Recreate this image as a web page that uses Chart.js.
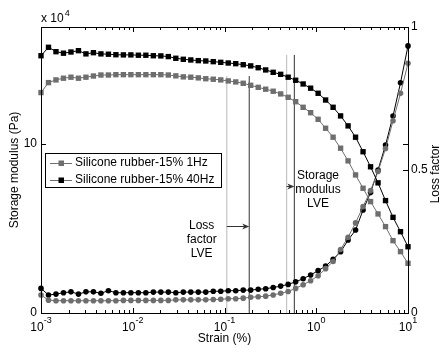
<!DOCTYPE html>
<html>
<head>
<meta charset="utf-8">
<script src="https://cdn.jsdelivr.net/npm/chart.js@4.4.0/dist/chart.umd.min.js"></script>
<style>
  html, body { margin: 0; padding: 0; background: #fff; }
  #wrap { width: 440px; height: 349px; }
</style>
</head>
<body>
<div id="wrap"><canvas id="chart" width="440" height="349"></canvas></div>
<script>
// DATOS (strain en %, modulo en x10^4 Pa)
const strain = [
  0.001, 0.0012068, 0.0014563, 0.0017575, 0.002121, 0.0025595, 0.0030888, 0.0037276, 0.0044984, 0.0054287,
  0.0065513, 0.007906, 0.009541, 0.011514, 0.013895, 0.016768, 0.020236, 0.024421, 0.029471, 0.035565,
  0.042919, 0.051795, 0.062506, 0.075431, 0.09103, 0.10985, 0.13257, 0.15999, 0.19307, 0.233,
  0.28118, 0.33932, 0.40949, 0.49417, 0.59636, 0.71969, 0.86851, 1.0481, 1.2649, 1.5264,
  1.8421, 2.223, 2.6827, 3.2375, 3.9069, 4.7149, 5.6899, 6.8665, 8.2864, 10
];
const modulus1Hz = [
  13.04, 13.63, 13.79, 13.89, 13.95, 13.89, 13.95, 14.02, 14.08, 14.08,
  14.10, 14.10, 14.10, 14.10, 14.10, 14.10, 14.10, 14.08, 14.03, 13.97,
  13.95, 13.91, 13.86, 13.83, 13.79, 13.73, 13.67, 13.59, 13.47, 13.35,
  13.24, 13.12, 12.96, 12.76, 12.50, 12.17, 11.85, 11.46, 10.93, 10.40,
  9.75, 9.00, 8.17, 7.38, 6.59, 5.86, 5.11, 4.28, 3.63, 2.94
];
const modulus40Hz = [
  15.22, 15.72, 15.46, 15.37, 15.44, 15.52, 15.33, 15.40, 15.33, 15.31,
  15.28, 15.27, 15.27, 15.25, 15.25, 15.22, 15.21, 15.17, 15.07, 15.01,
  14.97, 14.93, 14.91, 14.87, 14.83, 14.79, 14.75, 14.69, 14.62, 14.51,
  14.38, 14.24, 14.12, 13.95, 13.77, 13.55, 13.30, 13.00, 12.60, 12.17,
  11.66, 11.07, 10.40, 9.54, 8.65, 7.70, 6.65, 5.66, 4.81, 3.92
];
const loss1Hz = [
  0.063, 0.045, 0.043, 0.043, 0.043, 0.043, 0.043, 0.043, 0.043, 0.043,
  0.043, 0.044, 0.044, 0.044, 0.044, 0.044, 0.044, 0.044, 0.046, 0.046,
  0.046, 0.046, 0.046, 0.047, 0.048, 0.050, 0.050, 0.052, 0.055, 0.057,
  0.059, 0.063, 0.069, 0.075, 0.086, 0.099, 0.113, 0.130, 0.155, 0.180,
  0.222, 0.265, 0.315, 0.372, 0.428, 0.495, 0.575, 0.672, 0.768, 0.873
];
const loss40Hz = [
  0.086, 0.063, 0.066, 0.071, 0.074, 0.066, 0.074, 0.074, 0.069, 0.078,
  0.071, 0.071, 0.071, 0.071, 0.071, 0.073, 0.073, 0.073, 0.071, 0.073,
  0.073, 0.073, 0.073, 0.076, 0.076, 0.078, 0.078, 0.080, 0.080, 0.083,
  0.085, 0.089, 0.094, 0.100, 0.109, 0.120, 0.133, 0.148, 0.164, 0.188,
  0.214, 0.255, 0.290, 0.360, 0.421, 0.500, 0.587, 0.689, 0.805, 0.934
];

// lineas LVE verticales
const lveStrain = [0.106, 0.186, 0.476, 0.577];
const lveTop = [14.02, 14.02, 15.27, 15.27];
const lveColors = ['#b8b8b8', '#333333', '#b8b8b8', '#333333'];

const xDecades = [0.001, 0.01, 0.1, 1, 10];
const xExponents = ['-3', '-2', '-1', '0', '1'];
const leftTicks = [0, 10];
const rightTicks = [0, 0.5, 1];
const legendLabels = ['Silicone rubber-15% 1Hz', 'Silicone rubber-15% 40Hz'];

const GRAY = '#6e6e6e';
const BLACK = '#000000';
const FONT = '"Liberation Sans", Arial, sans-serif';

Chart.defaults.font.family = FONT;

function pts(ys) {
  return strain.map((s, i) => ({ x: s, y: ys[i] }));
}

function serie(ys, color, style, axis, radius) {
  return {
    data: pts(ys),
    yAxisID: axis,
    borderColor: color,
    backgroundColor: color,
    pointBackgroundColor: color,
    pointBorderColor: color,
    pointBorderWidth: 0,
    pointStyle: style,
    pointRadius: radius,
    borderWidth: 1,
    tension: 0,
    clip: false,
    order: 0
  };
}

const datasets = [];
lveStrain.forEach((s, i) => {
  datasets.push({
    data: [{ x: s, y: 0 }, { x: s, y: lveTop[i] }],
    yAxisID: 'y',
    borderColor: lveColors[i],
    borderWidth: 1,
    pointRadius: 0,
    order: 10
  });
});
datasets.push(serie(modulus1Hz, GRAY, 'rect', 'y', 3.8));
datasets.push(serie(modulus40Hz, BLACK, 'rect', 'y', 3.8));
datasets.push(serie(loss1Hz, GRAY, 'circle', 'y2', 2.8));
datasets.push(serie(loss40Hz, BLACK, 'circle', 'y2', 2.8));

// dibuja ejes, textos, flechas y leyenda a mano (estilo matlab)
const marco = {
  id: 'marco',
  afterDraw(chart) {
    const { ctx, chartArea: a, scales } = chart;
    const sx = scales.x, sy = scales.y, sy2 = scales.y2;
    ctx.save();
    ctx.strokeStyle = '#000';
    ctx.lineWidth = 1;
    ctx.strokeRect(a.left + 0.5, a.top + 0.5, a.right - a.left, a.bottom - a.top);

    // ticks eje x (log)
    ctx.beginPath();
    for (let d = -3; d <= 1; d++) {
      for (let m = 1; m <= 9; m++) {
        const v = m * Math.pow(10, d);
        if (v > 10.0001) break;
        const px = Math.round(sx.getPixelForValue(v)) + 0.5;
        const len = m === 1 ? 5 : 3;
        ctx.moveTo(px, a.bottom);
        ctx.lineTo(px, a.bottom - len);
        ctx.moveTo(px, a.top);
        ctx.lineTo(px, a.top + len);
      }
    }
    // ticks eje y
    leftTicks.forEach(v => {
      const py = Math.round(sy.getPixelForValue(v)) + 0.5;
      ctx.moveTo(a.left, py); ctx.lineTo(a.left + 5, py);
      ctx.moveTo(a.right, py); ctx.lineTo(a.right - 5, py);
    });
    rightTicks.forEach(v => {
      const py = Math.round(sy2.getPixelForValue(v)) + 0.5;
      ctx.moveTo(a.right, py); ctx.lineTo(a.right - 5, py);
    });
    ctx.stroke();

    ctx.fillStyle = '#000';
    ctx.font = '12px ' + FONT;

    // etiquetas izquierda
    ctx.textAlign = 'right';
    ctx.textBaseline = 'middle';
    leftTicks.forEach(v => ctx.fillText(String(v), a.left - 4, sy.getPixelForValue(v)));

    // etiquetas derecha
    ctx.textAlign = 'left';
    rightTicks.forEach(v => ctx.fillText(String(v), a.right + 3, sy2.getPixelForValue(v)));

    // x 10^4
    ctx.fillText('x 10', a.left, 19);
    const wx = ctx.measureText('x 10').width;
    ctx.font = '9px ' + FONT;
    ctx.fillText('4', a.left + wx + 1, 14);

    // etiquetas eje x
    xDecades.forEach((v, i) => {
      const px = sx.getPixelForValue(v);
      ctx.font = '12px ' + FONT;
      const wb = ctx.measureText('10').width;
      ctx.font = '9px ' + FONT;
      const we = ctx.measureText(xExponents[i]).width;
      const x0 = px - (wb + we) / 2;
      ctx.font = '12px ' + FONT;
      ctx.textAlign = 'left';
      ctx.fillText('10', x0, a.bottom + 15);
      ctx.font = '9px ' + FONT;
      ctx.fillText(xExponents[i], x0 + wb, a.bottom + 8);
    });

    // titulos
    ctx.font = '12px ' + FONT;
    ctx.textAlign = 'center';
    ctx.fillText('Strain (%)', (a.left + a.right) / 2, 339);
    ctx.save();
    ctx.translate(15, (a.top + a.bottom) / 2);
    ctx.rotate(-Math.PI / 2);
    ctx.fillText('Storage modulus (Pa)', 0, 0);
    ctx.restore();
    ctx.save();
    ctx.translate(436, (a.top + a.bottom) / 2 + 4);
    ctx.rotate(-Math.PI / 2);
    ctx.fillText('Loss factor', 0, 0);
    ctx.restore();

    // anotaciones LVE
    const lossX = sx.getPixelForValue(0.0564);
    ['Loss', 'factor', 'LVE'].forEach((t, i) => ctx.fillText(t, lossX, 226 + i * 14));
    const storX = sx.getPixelForValue(1.045);
    ['Storage', 'modulus', 'LVE'].forEach((t, i) => ctx.fillText(t, storX, 176 + i * 14));

    // flechas
    function flecha(v1, v2, yv) {
      const x1 = sx.getPixelForValue(v1);
      const x2 = sx.getPixelForValue(v2);
      const py = Math.round(sy.getPixelForValue(yv)) + 0.5;
      ctx.strokeStyle = '#333';
      ctx.fillStyle = '#333';
      ctx.beginPath();
      ctx.moveTo(x1, py);
      ctx.lineTo(x2 - 4, py);
      ctx.stroke();
      ctx.beginPath();
      ctx.moveTo(x2, py);
      ctx.lineTo(x2 - 7, py - 3);
      ctx.lineTo(x2 - 5, py);
      ctx.lineTo(x2 - 7, py + 3);
      ctx.closePath();
      ctx.fill();
    }
    flecha(lveStrain[0], lveStrain[1], 5.15);
    flecha(lveStrain[2], lveStrain[3], 7.52);

    // leyenda
    ctx.fillStyle = '#fff';
    ctx.fillRect(45.5, 153.5, 176, 34);
    ctx.strokeStyle = '#000';
    ctx.strokeRect(45.5, 153.5, 176, 34);
    const colores = [GRAY, BLACK];
    legendLabels.forEach((t, i) => {
      const ly = 163 + i * 17;
      ctx.strokeStyle = GRAY;
      ctx.beginPath();
      ctx.moveTo(50, ly + 0.5);
      ctx.lineTo(72, ly + 0.5);
      ctx.stroke();
      ctx.fillStyle = colores[i];
      ctx.fillRect(58.5, ly - 2.5, 5.5, 5.5);
      ctx.fillStyle = '#000';
      ctx.font = '12px ' + FONT;
      ctx.textAlign = 'left';
      ctx.textBaseline = 'middle';
      ctx.fillText(t, 75, ly);
    });
    ctx.restore();
  }
};

new Chart(document.getElementById('chart').getContext('2d'), {
  type: 'line',
  data: { datasets: datasets },
  options: {
    responsive: false,
    animation: false,
    devicePixelRatio: 1,
    layout: { padding: { top: 27, left: 0, right: 0, bottom: 0 } },
    plugins: { legend: { display: false }, tooltip: { enabled: false } },
    scales: {
      x: {
        type: 'logarithmic', min: 0.001, max: 10, position: 'bottom',
        grid: { display: false }, border: { display: false }, ticks: { display: false },
        afterFit: s => { s.height = 36; }
      },
      y: {
        type: 'linear', min: 0, max: 16.92, position: 'left',
        grid: { display: false }, border: { display: false }, ticks: { display: false },
        afterFit: s => { s.width = 41; }
      },
      y2: {
        type: 'linear', min: 0, max: 1, position: 'right',
        grid: { display: false }, border: { display: false }, ticks: { display: false },
        afterFit: s => { s.width = 32; }
      }
    }
  },
  plugins: [marco]
});
</script>
</body>
</html>
